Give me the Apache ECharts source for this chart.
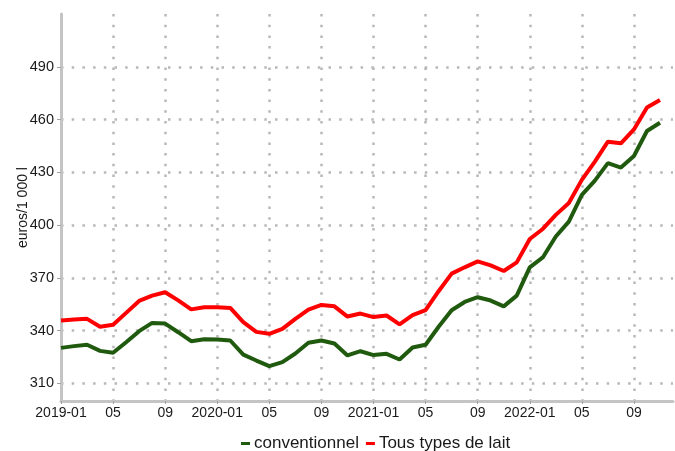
<!DOCTYPE html>
<html>
<head>
<meta charset="utf-8">
<script src="https://cdn.jsdelivr.net/npm/echarts@6/dist/echarts.min.js"></script>
<style>html,body{margin:0;padding:0;background:#fff;}#c{width:675px;height:451px;}</style>
</head>
<body>
<div id="c"></div>
<script>
const months = [
  '2019-01','2019-02','2019-03','2019-04','2019-05','2019-06','2019-07','2019-08','2019-09','2019-10','2019-11','2019-12',
  '2020-01','2020-02','2020-03','2020-04','2020-05','2020-06','2020-07','2020-08','2020-09','2020-10','2020-11','2020-12',
  '2021-01','2021-02','2021-03','2021-04','2021-05','2021-06','2021-07','2021-08','2021-09','2021-10','2021-11','2021-12',
  '2022-01','2022-02','2022-03','2022-04','2022-05','2022-06','2022-07','2022-08','2022-09','2022-10','2022-11','2022-12'
];
const conventionnel = [
  330.2,331.2,332.0,328.5,327.4,333.4,339.7,344.4,344.0,339.1,334.0,335.1,
  335.0,334.4,326.4,323.0,319.8,322.1,327.0,333.1,334.4,332.7,325.9,328.3,
  326.1,326.8,323.6,330.4,332.0,342.2,351.6,356.3,359.0,357.1,353.8,359.9,
  376.0,381.6,393.5,402.0,417.2,425.3,435.2,432.7,439.3,453.5,458.2
];
const tousTypes = [
  345.7,346.3,346.7,342.2,343.3,350.1,356.9,359.9,361.8,357.2,352.1,353.3,
  353.3,352.9,344.8,339.3,338.2,341.0,346.7,352.0,354.6,353.8,348.0,349.7,
  347.7,348.6,343.6,348.8,351.6,362.4,372.4,376.0,379.4,377.1,373.9,378.8,
  392.1,397.8,405.8,412.5,425.7,436.1,447.4,446.5,454.4,466.9,471.1
];
const yTicks = [310,340,370,400,430,460,490];
const seriesNames = ['conventionnel','Tous types de lait'];
const yTitle = 'euros/1 000 l';

const gridDot = {color:'#b8b8b8', width:2.5, type:[2.5,8.2], cap:'butt'};
const chart = echarts.init(document.getElementById('c'), null, {renderer:'canvas'});
chart.setOption({
  animation:false,
  backgroundColor:'#ffffff',
  textStyle:{fontFamily:'"Liberation Sans", Arial, sans-serif'},
  grid:{left:61, right:2, top:14, bottom:50, containLabel:false, outerBoundsMode:'none'},
  legend:{
    data:seriesNames, left:236, top:430, icon:'rect', itemWidth:9, itemHeight:3, itemGap:7,
    textStyle:{fontSize:17, color:'#1a1a1a', fontFamily:'"Liberation Sans", Arial, sans-serif', padding:[0,0,0,-1]}
  },
  xAxis:{
    type:'category', data:months, boundaryGap:false,
    axisLine:{show:true, lineStyle:{color:'#c4c4c4', width:3}},
    axisTick:{show:true, interval:3, length:3, lineStyle:{color:'#a0a0a0', width:1}},
    axisLabel:{interval:3, fontSize:14, color:'#1a1a1a', margin:5,
      formatter:function(v){ const p=v.split('-'); return p[1]==='01'? v : p[1]; }},
    splitLine:{show:true, interval:3, lineStyle:gridDot}
  },
  yAxis:{
    type:'value', min:300, max:520,
    name:yTitle, nameLocation:'middle', nameRotate:90, nameGap:31, nameMoveOverlap:false,
    nameTextStyle:{fontSize:14, color:'#1a1a1a'},
    axisLine:{show:true, lineStyle:{color:'#c4c4c4', width:3}},
    axisTick:{show:true, customValues:yTicks, length:4, lineStyle:{color:'#a0a0a0', width:1}},
    axisLabel:{customValues:yTicks, fontSize:14.5, color:'#1a1a1a', margin:7},
    splitLine:{show:true, lineStyle:gridDot}
  },
  series:[
    {name:seriesNames[0], type:'line', data:conventionnel, showSymbol:false, symbol:'none',
     lineStyle:{color:'#1f5a0e', width:4}, itemStyle:{color:'#1f5a0e'}},
    {name:seriesNames[1], type:'line', data:tousTypes, showSymbol:false, symbol:'none',
     lineStyle:{color:'#ff0000', width:4}, itemStyle:{color:'#ff0000'}}
  ]
});
</script>
</body>
</html>
